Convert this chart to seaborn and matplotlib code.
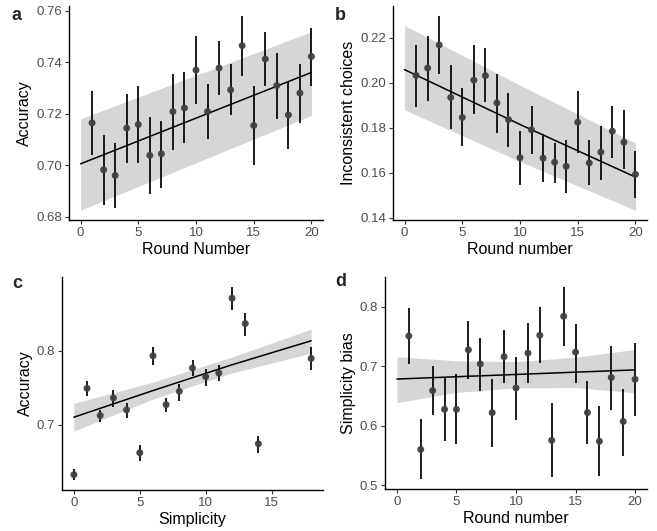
import numpy as np
import pandas as pd
import matplotlib
matplotlib.use("Agg")
import matplotlib.pyplot as plt
import seaborn as sns


sns.set_theme(style="ticks")
plt.rcParams["font.family"] = ["Liberation Sans", "DejaVu Sans"]

# ---- panel a: accuracy by round ----
ROUNDS = list(range(1, 21))
ACC_A = [0.7165, 0.6983, 0.6961, 0.7145, 0.7159, 0.7039, 0.7045, 0.7209, 0.7223, 0.7370,
         0.7209, 0.7378, 0.7293, 0.7465, 0.7155, 0.7413, 0.7310, 0.7196, 0.7281, 0.7423]
ACC_A_HI = [0.7290, 0.7120, 0.7086, 0.7277, 0.7307, 0.7187, 0.7174, 0.7355, 0.7361, 0.7503,
            0.7316, 0.7484, 0.7394, 0.7581, 0.7307, 0.7519, 0.7436, 0.7325, 0.7394, 0.7535]
ACC_A_LO = [0.7039, 0.6845, 0.6835, 0.7010, 0.7009, 0.6890, 0.6914, 0.7061, 0.7086, 0.7239,
            0.7101, 0.7274, 0.7194, 0.7348, 0.7003, 0.7310, 0.7181, 0.7065, 0.7165, 0.7310]
FIT_A_X = [0, 20]
FIT_A = [0.7006, 0.7361]
FIT_A_HI = [0.7181, 0.7519]
FIT_A_LO = [0.6826, 0.7194]

# ---- panel b: inconsistent choices by round ----
INC_B = [0.2033, 0.2066, 0.2169, 0.1935, 0.1846, 0.2012, 0.2032, 0.1911, 0.1837, 0.1667,
         0.1791, 0.1665, 0.1647, 0.1629, 0.1825, 0.1644, 0.1692, 0.1785, 0.1736, 0.1593]
INC_B_HI = [0.2170, 0.2210, 0.2299, 0.2081, 0.1978, 0.2167, 0.2153, 0.2039, 0.1954, 0.1785,
            0.1895, 0.1773, 0.1733, 0.1747, 0.1963, 0.1744, 0.1806, 0.1899, 0.1880, 0.1699]
INC_B_LO = [0.1893, 0.1921, 0.2039, 0.1793, 0.1719, 0.1862, 0.1913, 0.1775, 0.1716, 0.1544,
            0.1684, 0.1558, 0.1554, 0.1511, 0.1689, 0.1544, 0.1569, 0.1664, 0.1619, 0.1487]
FIT_B_X = [0, 10, 20]
FIT_B = [0.2059, 0.1815, 0.1581]
FIT_B_HI = [0.2255, 0.1990, 0.1733]
FIT_B_LO = [0.1880, 0.1650, 0.1433]

# ---- panel c: accuracy by simplicity ----
SIMPLICITY = [0, 1, 2, 3, 4, 5, 6, 7, 8, 9, 10, 11, 12, 13, 14, 18]
ACC_C = [0.6320, 0.7491, 0.7122, 0.7360, 0.7198, 0.6617, 0.7932, 0.7270, 0.7450, 0.7766,
         0.7649, 0.7698, 0.8712, 0.8369, 0.6739, 0.7896]
ACC_C_HI = [0.6401, 0.7595, 0.7203, 0.7473, 0.7288, 0.6716, 0.8045, 0.7356, 0.7550, 0.7874,
            0.7752, 0.7806, 0.8869, 0.8509, 0.6842, 0.8054]
ACC_C_LO = [0.6243, 0.7383, 0.7032, 0.7234, 0.7086, 0.6505, 0.7806, 0.7167, 0.7324, 0.7653,
            0.7518, 0.7595, 0.8550, 0.8203, 0.6617, 0.7743]
FIT_C_X = [0, 6, 12, 18]
FIT_C = [0.7099, 0.7460, 0.7810, 0.8135]
FIT_C_HI = [0.7288, 0.7575, 0.7915, 0.8293]
FIT_C_LO = [0.6910, 0.7345, 0.7700, 0.7968]

# ---- panel d: simplicity bias by round ----
BIAS_D = [0.7508, 0.5598, 0.6589, 0.6274, 0.6274, 0.7275, 0.7037, 0.6218, 0.7160, 0.6633,
          0.7220, 0.7519, 0.5752, 0.7840, 0.7236, 0.6218, 0.5736, 0.6809, 0.6069, 0.6778]
BIAS_D_HI = [0.7978, 0.6107, 0.7009, 0.6800, 0.6871, 0.7762, 0.7469, 0.6788, 0.7603, 0.7159,
             0.7718, 0.7989, 0.6372, 0.8338, 0.7701, 0.6745, 0.6328, 0.7347, 0.6622, 0.7391]
BIAS_D_LO = [0.7037, 0.5095, 0.6179, 0.5737, 0.5695, 0.6777, 0.6588, 0.5643, 0.6717, 0.6096,
             0.6717, 0.7056, 0.5139, 0.7337, 0.6724, 0.5687, 0.5150, 0.6260, 0.5482, 0.6168]
FIT_D_X = [0, 5, 10, 15, 20]
FIT_D = [0.6783, 0.6822, 0.6860, 0.6899, 0.6937]
FIT_D_HI = [0.7159, 0.7090, 0.7076, 0.7150, 0.7281]
FIT_D_LO = [0.6384, 0.6560, 0.6633, 0.6640, 0.6550]

POINT_COLOR = "#404040"
BAND_COLOR = "#d6d6d6"
TICK_GRAY = "#4d4d4d"


def draw_panel(ax, x, y, lo, hi, fit_x, fit, fit_lo, fit_hi, xlabel, ylabel):
    """
    Fitted line with ribbon, plus per-group means with intervals.
    """
    fit_df = pd.DataFrame({"x": fit_x, "y": fit, "lo": fit_lo, "hi": fit_hi})
    ax.fill_between(fit_df["x"], fit_df["lo"], fit_df["hi"], color=BAND_COLOR, lw=0, zorder=1)
    sns.lineplot(data=fit_df, x="x", y="y", color="black", lw=1.1, ax=ax, zorder=3)

    pts = pd.DataFrame({"x": x, "y": y, "lo": lo, "hi": hi})
    ax.vlines(pts["x"], pts["lo"], pts["hi"], color="black", lw=1.25, zorder=2)
    sns.scatterplot(data=pts, x="x", y="y", color=POINT_COLOR, s=25, edgecolor="none",
                    alpha=0.95, ax=ax, zorder=4)

    ax.set_xlabel(xlabel, fontsize=11.5, color="black", labelpad=2)
    ax.set_ylabel(ylabel, fontsize=11.5, color="black", labelpad=3)
    ax.tick_params(axis="both", labelsize=9.5, labelcolor=TICK_GRAY, color="#333333",
                   length=3, width=0.8, pad=2)
    for side in ["left", "bottom"]:
        ax.spines[side].set_linewidth(1.0)
        ax.spines[side].set_color("black")
    sns.despine(ax=ax)


W, H = 657, 531
fig = plt.figure(figsize=(W / 100, H / 100), dpi=100)


def px_axes(left, top, right, bottom):
    return fig.add_axes([left / W, 1 - bottom / H, (right - left) / W, (bottom - top) / H])


ax_a = px_axes(69, 6, 323, 220)
draw_panel(ax_a, ROUNDS, ACC_A, ACC_A_LO, ACC_A_HI, FIT_A_X, FIT_A, FIT_A_LO, FIT_A_HI,
           "Round Number", "Accuracy")
ax_a.set_xlim(-1, 21)
ax_a.set_ylim(0.6788, 0.7619)
ax_a.set_xticks([0, 5, 10, 15, 20])
ax_a.set_yticks([0.68, 0.70, 0.72, 0.74, 0.76])
ax_a.set_yticklabels(["0.68", "0.70", "0.72", "0.74", "0.76"])

ax_b = px_axes(393, 6, 647, 220)
draw_panel(ax_b, ROUNDS, INC_B, INC_B_LO, INC_B_HI, FIT_B_X, FIT_B, FIT_B_LO, FIT_B_HI,
           "Round number", "Inconsistent choices")
ax_b.set_xlim(-1, 21)
ax_b.set_ylim(0.1390, 0.2342)
ax_b.set_xticks([0, 5, 10, 15, 20])
ax_b.set_yticks([0.14, 0.16, 0.18, 0.20, 0.22])
ax_b.set_yticklabels(["0.14", "0.16", "0.18", "0.20", "0.22"])

ax_c = px_axes(62, 277, 323, 490)
draw_panel(ax_c, SIMPLICITY, ACC_C, ACC_C_LO, ACC_C_HI, FIT_C_X, FIT_C, FIT_C_LO, FIT_C_HI,
           "Simplicity", "Accuracy")
ax_c.set_xlim(-0.9, 18.9)
ax_c.set_ylim(0.6112, 0.9000)
ax_c.set_xticks([0, 5, 10, 15])
ax_c.set_yticks([0.7, 0.8])
ax_c.set_yticklabels(["0.7", "0.8"])

ax_d = px_axes(385, 277, 647, 489)
draw_panel(ax_d, ROUNDS, BIAS_D, BIAS_D_LO, BIAS_D_HI, FIT_D_X, FIT_D, FIT_D_LO, FIT_D_HI,
           "Round number", "Simplicity bias")
ax_d.set_xlim(-1, 21)
ax_d.set_ylim(0.4933, 0.8500)
ax_d.set_xticks([0, 5, 10, 15, 20])
ax_d.set_yticks([0.5, 0.6, 0.7, 0.8])
ax_d.set_yticklabels(["0.5", "0.6", "0.7", "0.8"])

for label, (px, py) in zip("abcd", [(17, 15), (340, 15), (17, 283), (341, 282)]):
    fig.text(px / W, 1 - py / H, label, fontsize=13, fontweight="bold",
             ha="center", va="center")

fig.savefig("out.png", dpi=100)
